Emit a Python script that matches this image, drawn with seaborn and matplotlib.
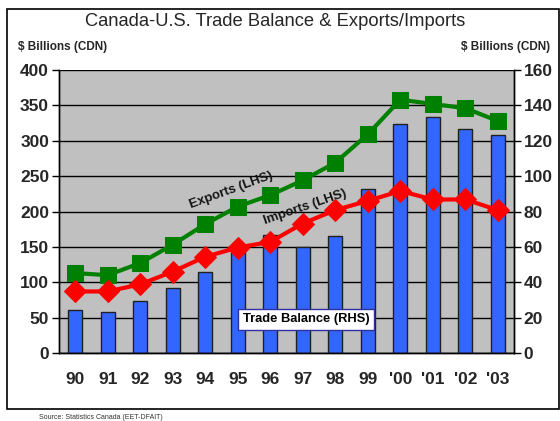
import matplotlib
matplotlib.use("Agg")
import matplotlib.pyplot as plt
import matplotlib.patches as mpatches
import seaborn as sns
import pandas as pd

years = ["90", "91", "92", "93", "94", "95", "96", "97", "98", "99", "'00", "'01", "'02", "'03"]
exports = [113, 110, 127, 153, 182, 207, 223, 244, 269, 309, 358, 352, 346, 328]
imports = [87, 87, 97, 115, 136, 149, 157, 183, 202, 215, 229, 217, 217, 202]
trade_balance = [24.3, 23.4, 29.4, 36.6, 45.8, 57.3, 66.5, 59.7, 66.3, 92.7, 129.3, 133.2, 126.6, 123.4]

df = pd.DataFrame({"year": years, "exports": exports, "imports": imports, "balance": trade_balance})

sns.set_style("white")
plt.rcParams["font.family"] = ["Liberation Sans", "DejaVu Sans"]

fig = plt.figure(figsize=(5.6, 4.21), dpi=100)
ax = fig.add_axes([0.105, 0.1615, 0.813, 0.6722])
ax2 = ax.twinx()

# bars on the right-hand axis (drawn first so the lines sit on top)
ax.set_facecolor("#C0C0C0")
sns.barplot(ax=ax, data=df, x="year", y="balance", color="#3366FF", saturation=1,
            width=0.43, edgecolor="#202020", linewidth=1, zorder=2)
ax.set_ylim(0, 160)
ax.set_xlim(-0.5, len(years) - 0.5)
ax.set_yticks(range(0, 161, 20))
ax.yaxis.tick_right()
ax.yaxis.set_label_position("right")
ax.grid(axis="y", color="black", linewidth=1, zorder=0)
ax.set_axisbelow(True)

# lines on the left-hand axis
ax2.set_facecolor("none")
ax2.yaxis.tick_left()
ax2.yaxis.set_label_position("left")
x = list(range(len(years)))
sns.lineplot(ax=ax2, x=x, y=exports, color="#008000", linewidth=3, marker="s",
             markersize=11, markeredgecolor="#008000", zorder=4)
sns.lineplot(ax=ax2, x=x, y=imports, color="#FF0000", linewidth=3, marker="D",
             markersize=11, markeredgecolor="#FF0000", zorder=4)
ax2.set_ylim(0, 400)
ax2.set_yticks(range(0, 401, 50))

for a in (ax, ax2):
    a.set_xlabel("")
    a.set_ylabel("")
    a.spines["top"].set_visible(False)
    for s in ("left", "right", "bottom"):
        a.spines[s].set_color("black")
        a.spines[s].set_linewidth(1)

ax.tick_params(axis="y", direction="out", length=5, width=1, color="black",
               labelsize=12.5, pad=2, right=True, left=False)
ax2.tick_params(axis="y", direction="out", length=5, width=1, color="black",
                labelsize=12.5, pad=2, left=True, right=False)
for lab in ax.get_yticklabels() + ax2.get_yticklabels():
    lab.set_fontweight("bold")

# category labels in the middle, tick marks between categories
ax.set_xticks(x)
ax.set_xticklabels(years, fontsize=12.5, fontweight="bold")
ax.tick_params(axis="x", which="major", length=0, pad=14)
ax.set_xticks([i - 0.5 for i in range(len(years) + 1)], minor=True)
ax.tick_params(axis="x", which="minor", direction="out", length=5, width=1, color="black")
ax.set_xlim(-0.5, len(years) - 0.5)

ax2.text(4.81, 230, "Exports (LHS)", rotation=20, fontsize=9.5, fontweight="bold",
         ha="center", va="center", color="#151515", zorder=5)
ax2.text(7.08, 206, "Imports (LHS)", rotation=19, fontsize=9.5, fontweight="bold",
         ha="center", va="center", color="#151515", zorder=5)
ax2.text(7.11, 48, "Trade Balance (RHS)", fontsize=9.3, fontweight="bold",
         ha="center", va="center", color="black", zorder=6,
         bbox=dict(boxstyle="square,pad=0.35", facecolor="white", edgecolor="#3030A0", linewidth=1))

fig.text(0.491, 0.948, "Canada-U.S. Trade Balance & Exports/Imports", fontsize=13.2,
         ha="center", va="center")
fig.text(0.033, 0.888, "$ Billions (CDN)", fontsize=8.5, fontweight="bold", ha="left", va="center")
fig.text(0.983, 0.888, "$ Billions (CDN)", fontsize=8.5, fontweight="bold", ha="right", va="center")
fig.text(0.07, 0.0, "Source: Statistics Canada (EET-DFAIT)", fontsize=5, ha="left",
         va="bottom", color="#333333")

# outer frame around the chart
fig.patches.append(mpatches.Rectangle((0.013, 0.028), 0.985, 0.95, transform=fig.transFigure,
                                      fill=False, edgecolor="black", linewidth=1.2))

fig.savefig("out.png", dpi=100)
